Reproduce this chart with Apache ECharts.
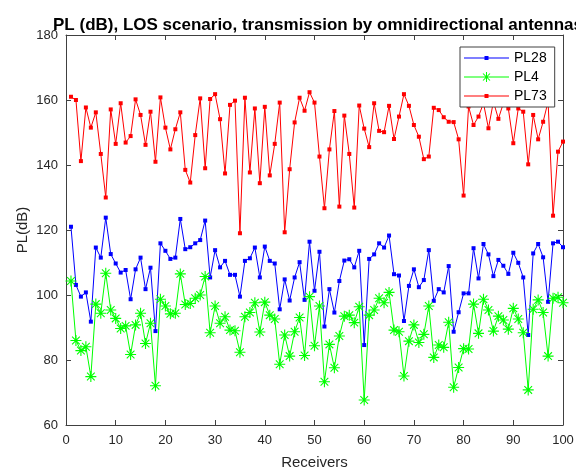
<!DOCTYPE html>
<html>
<head>
<meta charset="utf-8">
<script src="https://cdn.jsdelivr.net/npm/echarts@6/dist/echarts.min.js"></script>
<style>
  html, body { margin: 0; padding: 0; background: #fff; }
  #chart { width: 576px; height: 471px; }
</style>
</head>
<body>
<div id="chart"></div>
<script>
// Path loss per receiver (dB), receivers numbered 1..100
const pl28 = [
  121.0, 103.1, 99.5, 100.8, 91.8, 114.6, 111.5, 123.8, 112.6, 109.7,
  106.9, 107.7, 98.7, 107.9, 111.5, 101.8, 108.4, 88.9, 115.9, 113.6,
  111.1, 111.5, 123.4, 114.1, 114.7, 115.9, 116.9, 122.9, 105.4, 113.8,
  108.5, 110.5, 106.2, 106.2, 99.5, 110.5, 111.3, 114.6, 105.4, 114.9,
  110.5, 109.7, 95.6, 104.8, 98.3, 105.4, 110.1, 98.5, 116.4, 101.3,
  113.3, 90.3, 101.8, 94.6, 104.3, 110.6, 111.0, 108.5, 113.6, 84.6,
  111.1, 112.5, 115.9, 114.6, 118.3, 106.4, 106.0, 92.0, 102.8, 107.9,
  102.4, 104.6, 113.8, 98.2, 101.8, 100.8, 108.9, 88.7, 94.7, 100.5,
  100.5, 114.4, 105.1, 115.7, 112.5, 105.8, 110.8, 109.0, 106.5, 113.0,
  109.9, 105.4, 87.7, 112.8, 115.7, 111.6, 97.9, 115.9, 116.4, 114.7
];
const pl4 = [
  104.3, 86.0, 82.9, 84.1, 74.9, 97.2, 94.4, 106.7, 95.4, 92.8,
  89.7, 90.5, 81.7, 90.8, 94.4, 85.1, 91.3, 72.1, 98.7, 96.6,
  94.2, 94.4, 106.5, 97.1, 97.4, 99.0, 100.0, 105.7, 88.4, 96.6,
  91.3, 93.3, 89.2, 89.0, 82.4, 93.3, 94.6, 97.6, 88.6, 97.8,
  93.8, 92.6, 78.7, 87.7, 81.2, 88.7, 93.1, 81.4, 99.5, 84.4,
  96.6, 73.3, 84.8, 77.6, 87.4, 93.5, 93.8, 91.5, 96.4, 67.7,
  93.8, 95.4, 99.0, 97.6, 100.8, 89.2, 88.7, 75.1, 85.8, 90.8,
  85.4, 87.9, 96.6, 80.8, 84.6, 83.9, 91.6, 71.6, 77.7, 83.5,
  83.4, 97.2, 88.2, 98.7, 95.4, 88.9, 93.5, 92.3, 89.5, 95.9,
  92.6, 88.4, 70.8, 95.6, 98.5, 94.6, 81.2, 99.0, 99.3, 97.6
];
const pl73 = [
  161.0, 160.0, 141.2, 157.7, 151.5, 156.2, 143.4, 130.0, 157.1, 146.5,
  159.0, 146.9, 148.9, 160.2, 155.4, 146.2, 156.4, 141.0, 160.8, 151.5,
  144.8, 151.0, 156.2, 138.5, 134.6, 149.2, 160.5, 139.0, 160.3, 161.8,
  154.1, 137.4, 158.5, 159.8, 119.0, 160.7, 137.7, 157.4, 134.4, 157.9,
  136.8, 146.5, 159.2, 119.3, 138.7, 153.1, 160.7, 156.7, 162.4, 159.2,
  142.6, 126.7, 144.8, 156.6, 127.2, 155.2, 143.4, 126.9, 158.3, 151.2,
  145.5, 159.0, 150.5, 150.1, 158.2, 148.0, 154.9, 161.8, 158.2, 152.3,
  148.7, 141.8, 142.6, 157.6, 156.9, 154.7, 153.3, 153.2, 147.9, 130.6,
  158.0, 152.3, 154.9, 159.0, 151.3, 159.5, 154.2, 159.0, 157.4, 146.7,
  157.4, 156.4, 140.2, 155.4, 147.9, 153.3, 159.5, 124.4, 144.1, 147.2
];
const seriesNames = ['PL28', 'PL4', 'PL73'];
const xTicks = { min: 0, max: 100, step: 10 };
const yTicks = { min: 60, max: 180, step: 20 };

// MATLAB-style asterisk marker built from four thin bars
const asterisk = 'path://M0,4.5L10,4.5L10,5.5L0,5.5Z' +
  'M4.5,0L5.5,0L5.5,10L4.5,10Z' +
  'M1.15,1.85L1.85,1.15L8.85,8.15L8.15,8.85Z' +
  'M8.15,1.15L8.85,1.85L1.85,8.85L1.15,8.15Z';

// Legend icons: a 45x16 box holding a 1px line with the marker at its centre
const iconFrame = 'M0,0ZM45,16ZM0,7.5L45,7.5L45,8.5L0,8.5Z';
const iconDot = 'path://' + iconFrame + 'M20.5,6L24.5,6L24.5,10L20.5,10Z';
const iconStar = 'path://' + iconFrame +
  'M17.5,7.5L27.5,7.5L27.5,8.5L17.5,8.5Z' +
  'M22,3L23,3L23,13L22,13Z' +
  'M18.65,4.85L19.35,4.15L26.35,11.15L25.65,11.85Z' +
  'M25.65,4.15L26.35,4.85L19.35,11.85L18.65,11.15Z';

const toPairs = arr => arr.map((v, i) => [i + 1, v]);

const axisColor = '#404040';
const textColor = '#262626';
const font = 'Liberation Sans, Arial, Helvetica, sans-serif';

function boxAxis(extra) {
  return Object.assign({
    type: 'value',
    axisLine: { show: true, onZero: false, lineStyle: { color: axisColor, width: 1 } },
    axisTick: { show: true, inside: true, length: 5, lineStyle: { color: axisColor } },
    splitLine: { show: false },
    axisLabel: { show: false }
  }, extra);
}

const chart = echarts.init(document.getElementById('chart'), null, { renderer: 'canvas' });
chart.setOption({
  animation: false,
  backgroundColor: '#ffffff',
  title: {
    text: 'PL (dB), LOS scenario, transmission by omnidirectional antennas',
    left: 313, top: 12, textAlign: 'center',
    textStyle: { fontFamily: font, fontWeight: 'bold', fontSize: 17, color: '#000' }
  },
  grid: { left: 66, right: 13, top: 35, bottom: 46, containLabel: false, outerBoundsMode: 'none' },
  legend: {
    orient: 'vertical',
    left: 460, top: 47,
    width: 98,
    padding: [3, 8, 3, 4],
    itemGap: 3,
    itemWidth: 45, itemHeight: 16,
    backgroundColor: '#ffffff',
    borderColor: axisColor, borderWidth: 1,
    textStyle: { fontFamily: font, fontSize: 14, color: '#000' },
    data: [
      { name: seriesNames[0], icon: iconDot },
      { name: seriesNames[1], icon: iconStar },
      { name: seriesNames[2], icon: iconDot }
    ]
  },
  xAxis: [
    boxAxis({
      position: 'bottom', min: xTicks.min, max: xTicks.max, interval: xTicks.step,
      name: 'Receivers', nameLocation: 'middle', nameGap: 30, nameMoveOverlap: false,
      nameTextStyle: { fontFamily: font, fontSize: 15, color: textColor },
      axisLabel: { show: true, fontFamily: font, fontSize: 13, color: textColor, margin: 9 }
    }),
    boxAxis({ position: 'top', min: xTicks.min, max: xTicks.max, interval: xTicks.step })
  ],
  yAxis: [
    boxAxis({
      position: 'left', min: yTicks.min, max: yTicks.max, interval: yTicks.step,
      name: 'PL(dB)', nameLocation: 'middle', nameGap: 36, nameRotate: 90, nameMoveOverlap: false,
      nameTextStyle: { fontFamily: font, fontSize: 15, color: textColor },
      axisLabel: { show: true, fontFamily: font, fontSize: 13, color: textColor, margin: 8 }
    }),
    boxAxis({ position: 'right', min: yTicks.min, max: yTicks.max, interval: yTicks.step })
  ],
  series: [
    {
      name: seriesNames[0], type: 'line', data: toPairs(pl28),
      symbol: 'rect', symbolSize: 4,
      lineStyle: { color: '#0000ff', width: 1 },
      itemStyle: { color: '#0000ff' }
    },
    {
      name: seriesNames[1], type: 'line', data: toPairs(pl4),
      symbol: asterisk, symbolSize: 11,
      lineStyle: { color: '#00ff00', width: 1 },
      itemStyle: { color: '#00ff00' }
    },
    {
      name: seriesNames[2], type: 'line', data: toPairs(pl73),
      symbol: 'rect', symbolSize: 4,
      lineStyle: { color: '#ff0000', width: 1 },
      itemStyle: { color: '#ff0000' }
    }
  ]
});
</script>
</body>
</html>
